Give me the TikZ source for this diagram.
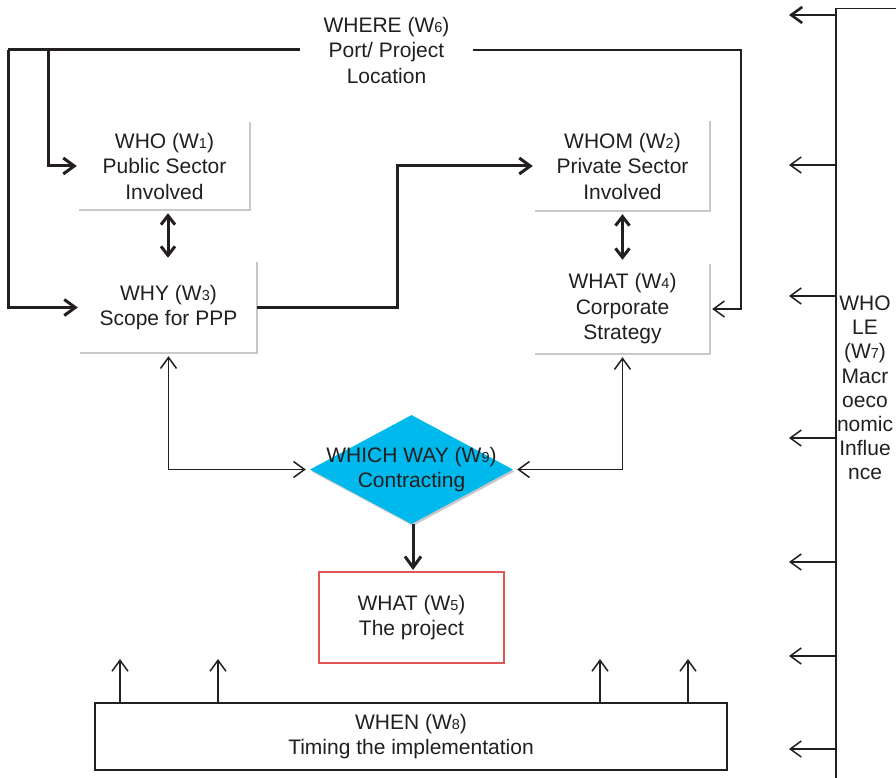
\documentclass[tikz,border=0pt]{standalone}
\usepackage{fontspec}
\setmainfont{Liberation Sans}
\usetikzlibrary{arrows.meta,shapes.geometric,calc}
\definecolor{ink}{HTML}{231F20}
\definecolor{shade}{HTML}{C8C8C8}
\definecolor{cyanf}{HTML}{00B9EC}
\definecolor{redb}{HTML}{E05555}
\newcommand\sn[1]{{\fontsize{14.5}{14.5}\selectfont #1}}
\begin{document}
\begin{tikzpicture}[x=1pt,y=-1pt,
  txt/.style={font=\fontsize{21}{25.5}\selectfont, text=ink, align=center, inner sep=0pt},
  wbox/.style={txt, minimum width=#1, minimum height=90pt},
  heavy/.style={line width=3pt, draw=ink},
  light/.style={line width=1.5pt, draw=ink},
  hbarb/.style={-{Straight Barb[length=11pt,width=16pt]}},
  hbarbs/.style={{Straight Barb[length=9pt,width=14pt]}-{Straight Barb[length=9pt,width=14pt]}},
  lbarb/.style={-{Straight Barb[length=11pt,width=16pt]}},
  lbarbs/.style={{Straight Barb[length=11pt,width=16pt]}-{Straight Barb[length=11pt,width=16pt]}},
  shadowline/.style={draw=shade, line width=2.5pt}]
\clip (0,0) rectangle (896,778);
\fill[white] (0,0) rectangle (896,778);

% nodes
\node[txt, minimum width=173pt] (w6) at (386.5,50) {WHERE (W\sn6)\\Port/ Project\\Location};
\node[wbox=171pt, minimum height=88pt] (w1) at (164.5,166) {WHO (W\sn1)\\Public Sector\\Involved};
\node[wbox=175pt] (w2) at (622.5,166) {WHOM (W\sn2)\\Private Sector\\Involved};
\node[wbox=177pt, minimum height=91pt] (w3) at (168.5,307.5) {WHY (W\sn3)\\Scope for PPP};
\node[wbox=175pt] (w4) at (622.5,309) {WHAT (W\sn4)\\Corporate\\Strategy};
\node[diamond, fill=shade, minimum width=203pt, minimum height=109pt, inner sep=0pt] (w9s) at (413,471.5) {};
\node[diamond, fill=cyanf, minimum width=203pt, minimum height=109pt, inner sep=0pt] (w9) at (411.5,469.5) {};
\node[txt] (w9t) at (411.5,469.5) {WHICH WAY (W\sn9)\\Contracting};
\node[txt, draw=redb, line width=2pt, minimum width=185pt, minimum height=91pt] (w5) at (411.5,617.5) {WHAT (W\sn5)\\The project};
\node[txt, draw=ink, line width=2pt, minimum width=632pt, minimum height=67pt] (w8) at (411,736.5) {WHEN (W\sn8)\\Timing the implementation};
\node[draw=ink, line width=1.5pt, minimum width=140pt, minimum height=800pt, anchor=north west, inner sep=0pt] (w7) at (835,8) {};
\node[txt, font=\fontsize{21}{24.2}\selectfont] (w7t) at (865,388) {WHO\\LE\\(W\sn7)\\Macr\\oeco\\nomic\\Influe\\nce};

% shadows of the boxes
\foreach \b in {w1,w2,w3,w4}
  \draw[shadowline] (\b.north east) -- (\b.south east) -- (\b.south west);

% heavy connectors
\coordinate (lc) at (8,50);
\coordinate (bc) at (48,50);
\draw[heavy] (w6.west) -- (lc);
\draw[heavy, hbarb, shorten >=2pt] (lc) |- (w3.west);
\draw[heavy, hbarb, shorten >=2pt] (bc) |- (w1.west);
\coordinate (mc) at (397,307.5);
\draw[heavy, hbarb, shorten >=2pt] (w3.east) -- (mc) |- (w2.west);
\draw[heavy, hbarbs, shorten <=3pt, shorten >=4pt] ($(w1.south)+(3.5,0)$) -- ($(w3.north)+(-0.5,0)$);
\draw[heavy, hbarbs, shorten <=3pt, shorten >=4pt] (w2.south) -- (w4.south |- w4.north);
\draw[heavy, hbarb, shorten >=1pt] ($(w9.south)+(1.5,0)$) -- ($(w5.north)+(1.5,0)$);

% light connectors
\coordinate (rc) at (741,50);
\draw[light, lbarb, shorten >=2pt] (w6.east) -- (rc) |- (w4.east);
\draw[light, lbarbs, shorten <=3pt, shorten >=4pt] (w3.south) |- (w9.west);
\draw[light, lbarbs, shorten <=3pt, shorten >=4pt] (w4.south) |- (w9.east);
\foreach \x in {120,218,600,688}
  \draw[light, lbarb] (w8.north -| \x,0) -- ++(0,-43);
\draw[line width=2.6pt, draw=ink, hbarb] (w7.west |- 0,15) -- ++(-46,0);
\foreach \y in {165,296,438,562,656,749}
  \draw[light, lbarb] (w7.west |- 0,\y) -- ++(-46,0);
\end{tikzpicture}
\end{document}
